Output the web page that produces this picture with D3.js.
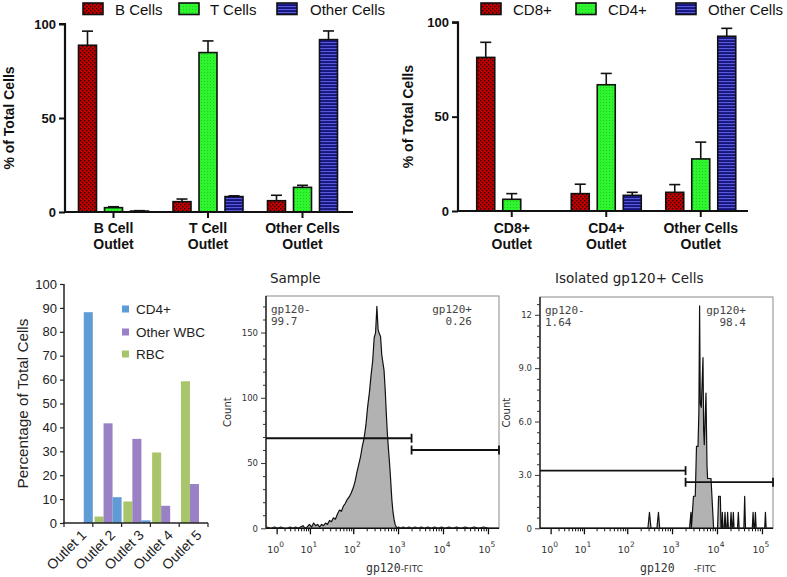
<!DOCTYPE html>
<html><head><meta charset="utf-8">
<script src="https://cdn.jsdelivr.net/npm/d3@7"></script>
<style>body{margin:0;background:#fff}svg{display:block}</style>
</head><body>
<svg id="c" width="787" height="577"></svg>
<script>
// ---------- DATA ----------
// Panel A (top-left)
const aGroups = ["B Cell|Outlet", "T Cell|Outlet", "Other Cells|Outlet"];
const aSeries = ["B Cells", "T Cells", "Other Cells"];
const aBCells = [88.7, 5.5, 6.0];
const aBCellsErr = [7.5, 1.4, 2.9];
const aTCells = [2.3, 84.8, 13.1];
const aTCellsErr = [0.5, 6.2, 1.1];
const aOther = [0.5, 8.2, 91.7];
const aOtherErr = [0.2, 0.4, 4.6];
const aTicks = [0, 50, 100];

// Panel B (top-right)
const bGroups = ["CD8+|Outlet", "CD4+|Outlet", "Other Cells|Outlet"];
const bSeries = ["CD8+", "CD4+", "Other Cells"];
const bCD8 = [81.4, 9.2, 9.9];
const bCD8Err = [8.0, 5.0, 4.1];
const bCD4 = [6.2, 66.9, 27.6];
const bCD4Err = [3.0, 6.0, 8.9];
const bOther = [0, 8.3, 92.6];
const bOtherErr = [0, 1.6, 4.2];
const bTicks = [0, 50, 100];

// Panel C (bottom-left)
const cOutlets = ["Outlet 1", "Outlet 2", "Outlet 3", "Outlet 4", "Outlet 5"];
const cCD4 = [88.2, 10.8, 1.1, 0, 0];
const cOtherWBC = [0, 41.7, 35.2, 7.2, 16.3];
const cRBC = [0, 2.7, 9.0, 29.5, 59.3];
const cTicks = [0, 10, 20, 30, 40, 50, 60, 70, 80, 90, 100];

// Flow panels: [FITC intensity, count]
const sampleHistogram = [
 [0.2,1],[0.5,0],[0.8,1],[1.1,0],[1.5,1],[1.9,0],[2.4,0],[3,1],[3.6,0],[4.3,1],[5,0],[5.8,1],
 [6.7,2],[7.6,0],[8.6,1],[9.7,3],[11,1],[12.3,4],[13.7,2],[15.3,3],[17,1],[19,3],[21,2],[23.5,4],
 [26,3],[29,6],[32,5],[35.6,8],[39.5,7],[44,11],[49,14],[54,13],[60,17],[66,19],[73,22],[81,24],
 [90,27],[100,31],[110,36],[121,43],[133,49],[146,55],[160,63],[175,69],[192,79],[210,93],[230,104],
 [250,117],[272,128],[294,146],[316,150],[338,170],[360,152],[384,149],[408,147],[434,133],[460,127],
 [488,121],[518,106],[548,88],[580,72],[614,60],[650,49],[688,36],[728,22],[770,13],[815,7],[862,3],
 [912,1],[965,0],[1020,1],[1150,0],[1300,1],[1500,0],[1750,1],[2050,0],[2400,1],[2800,0],[3300,1],
 [3900,0],[4600,1],[5500,0],[6500,1],[7800,0],[9300,1],[11000,0],[13500,1],[16500,0],[20000,1],
 [25000,0],[31000,1],[39000,0],[49000,1],[62000,0],[80000,1],[105000,0],[140000,0],[176000,0]
];
const isolatedHistogram = [
 [0.2,0],[290,0],[314,0.9],[340,0],[460,0],[499,0.9],[530,0],[2450,0],[2637,0.9],[2700,0],
 [2778,0.5],[3000,1.8],[3290,1.8],[3500,4.6],[3780,4.6],[3950,6.5],[4104,12.5],[4250,7.0],[4475,6.8],
 [4884,9.6],[5050,5.5],[5220,4.7],[5690,7.6],[6000,3.5],[6180,2.8],[7360,2.8],[8411,0],[9500,0],
 [10300,0],[10870,1.8],[11860,1.8],[12300,0],[12800,0],[13150,0.9],[13600,0],[14500,0],[15090,0.9],
 [15700,0],[16600,0],[17250,0.9],[17900,0],[19700,0],[20530,0.9],[21400,0],[22200,0],[23110,0.9],
 [24000,0],[28600,0],[29860,0.9],[31100,0],[39600,0],[41300,1.8],[43000,0],[61000,0],[63500,0.9],
 [66000,0],[68800,0],[71500,0.9],[74300,0],[115000,0],[119500,0.9],[124000,0],[176000,0]
];
const flowXDomain = [0.16, 176000];
const flowDecades = [1, 10, 100, 1000, 10000, 100000];
const sampleYTicks = [0, 50, 100, 150];
const isolatedYTicks = [0, 3, 6, 9, 12];
const isolatedYLabels = ["0", "3.0", "6.0", "9.0", "12"];
const gateBoundary = 2000;

// ---------- DRAWING ----------
const svg = d3.select("#c");
const defs = svg.append("defs");

function pattern(id, w, h, bg, marks) {
  const p = defs.append("pattern").attr("id", id).attr("patternUnits", "userSpaceOnUse")
    .attr("width", w).attr("height", h);
  p.append("rect").attr("width", w).attr("height", h).attr("fill", bg);
  marks.forEach(m => p.append("rect").attr("x", m[0]).attr("y", m[1]).attr("width", m[2]).attr("height", m[3]).attr("fill", m[4]));
}
pattern("patRed", 4, 4, "#c00000", [[0,0,1.3,1.3,"#1a0000"],[2,2,1.3,1.3,"#1a0000"]]);
pattern("patGreen", 3, 3, "#2ef52e", [[0,0,1,1,"#22cc22"]]);
pattern("patBlue", 4, 3, "#16167e", [[0,0,4,1.1,"#5a5ad8"]]);
const topFills = ["url(#patRed)", "url(#patGreen)", "url(#patBlue)"];

function groupedBars(o) {
  const g = svg.append("g").attr("font-family", "'Liberation Sans', Arial, sans-serif");
  const x0 = d3.scaleBand().domain(o.groups).range(o.xRange);
  const x1 = d3.scaleBand().domain(o.series).range([0, x0.bandwidth()])
    .paddingInner(0.3077).paddingOuter(0.471);
  const y = d3.scaleLinear().domain([0, 100]).range(o.yRange);
  const rows = [];
  o.series.forEach((s, si) => o.groups.forEach((gr, gi) => {
    rows.push({s, si, gr, v: o.values[si][gi], e: o.errors[si][gi]});
  }));
  const drawn = rows.filter(d => d.v > 0);
  g.selectAll("rect.bar").data(drawn).join("rect")
    .attr("x", d => x0(d.gr) + x1(d.s)).attr("width", x1.bandwidth())
    .attr("y", d => y(d.v)).attr("height", d => y(0) - y(d.v))
    .attr("fill", d => topFills[d.si]).attr("stroke", "#111").attr("stroke-width", 1.6);
  const eb = g.selectAll("g.err").data(drawn).join("g");
  eb.append("line").attr("x1", d => x0(d.gr) + x1(d.s) + x1.bandwidth()/2)
    .attr("x2", d => x0(d.gr) + x1(d.s) + x1.bandwidth()/2)
    .attr("y1", d => y(d.v)).attr("y2", d => y(d.v + d.e)).attr("stroke", "#111").attr("stroke-width", 1.6);
  eb.append("line").attr("x1", d => x0(d.gr) + x1(d.s) + x1.bandwidth()/2 - 5.5)
    .attr("x2", d => x0(d.gr) + x1(d.s) + x1.bandwidth()/2 + 5.5)
    .attr("y1", d => y(d.v + d.e)).attr("y2", d => y(d.v + d.e)).attr("stroke", "#111").attr("stroke-width", 1.6);
  // y axis
  const ya = g.append("g").attr("transform", `translate(${o.axisX},0)`)
    .call(d3.axisLeft(y).tickValues(o.ticks).tickSize(6).tickPadding(3));
  ya.select(".domain").attr("stroke", "#111").attr("stroke-width", 2.2).attr("d", `M-6,${y(100)}H0V${y(0)}`);
  ya.selectAll(".tick line").attr("stroke", "#111").attr("stroke-width", 2);
  ya.selectAll(".tick text").attr("font-size", 13).attr("font-weight", "bold").attr("fill", "#111")
    .attr("font-family", "'Liberation Sans', Arial, sans-serif");
  // x axis
  g.append("line").attr("x1", o.axisX - 1).attr("x2", o.axisEnd).attr("y1", y(0)).attr("y2", y(0))
    .attr("stroke", "#111").attr("stroke-width", 2.2);
  g.selectAll("line.xt").data(o.groups).join("line")
    .attr("x1", d => x0(d) + x0.bandwidth()/2).attr("x2", d => x0(d) + x0.bandwidth()/2)
    .attr("y1", y(0)).attr("y2", y(0) + 6).attr("stroke", "#111").attr("stroke-width", 2);
  const lab = g.selectAll("text.xl").data(o.groups).join("text")
    .attr("text-anchor", "middle").attr("font-size", 14).attr("font-weight", "bold").attr("fill", "#111");
  lab.selectAll("tspan").data(d => d.split("|").map(t => ({t, d}))).join("tspan")
    .attr("x", t => x0(t.d) + x0.bandwidth()/2).attr("y", (t, i) => 233 + i * 15.5).text(t => t.t);
  // y title
  g.append("text").attr("transform", `translate(${o.titleX},${(y(0)+y(100))/2}) rotate(-90)`)
    .attr("text-anchor", "middle").attr("font-size", 14).attr("font-weight", "bold").attr("fill", "#111")
    .text("% of Total Cells");
  // legend
  const lg = g.selectAll("g.lg").data(o.series).join("g");
  lg.append("rect").attr("x", (d, i) => o.legendRect[i]).attr("y", 3).attr("width", 20).attr("height", 11.5)
    .attr("fill", (d, i) => topFills[i]).attr("stroke", "#111").attr("stroke-width", 1.6);
  lg.append("text").attr("x", (d, i) => o.legendText[i]).attr("y", 15).attr("font-size", 15)
    .attr("fill", "#111").text(d => d);
}

groupedBars({
  groups: aGroups, series: aSeries,
  values: [aBCells, aTCells, aOther], errors: [aBCellsErr, aTCellsErr, aOtherErr],
  xRange: [66.25, 349.75], yRange: [212, 24], ticks: aTicks,
  axisX: 65, axisEnd: 353, titleX: 14,
  legendRect: [83, 179, 277], legendText: [115, 210, 310]
});
groupedBars({
  groups: bGroups, series: bSeries,
  values: [bCD8, bCD4, bOther], errors: [bCD8Err, bCD4Err, bOtherErr],
  xRange: [464.5, 748], yRange: [211, 22.3], ticks: bTicks,
  axisX: 458, axisEnd: 748, titleX: 413,
  legendRect: [481, 576, 676], legendText: [513, 608, 708]
});

// ---------- Panel C ----------
(function() {
  const g = svg.append("g").attr("font-family", "'Liberation Sans', Arial, sans-serif");
  const seriesOrder = ["RBC", "Other WBC", "CD4+"];
  const seriesVals = {"CD4+": cCD4, "Other WBC": cOtherWBC, "RBC": cRBC};
  const colors = {"CD4+": "#5f9bd4", "Other WBC": "#9a80c4", "RBC": "#a9c56c"};
  const x0 = d3.scaleBand().domain(cOutlets).range([64, 208]).paddingInner(0.06).paddingOuter(0.03).align(1);
  const x1 = d3.scaleBand().domain(seriesOrder).range([0, x0.bandwidth()]);
  const y = d3.scaleLinear().domain([0, 100]).range([523, 284]);
  const rows = [];
  seriesOrder.forEach(s => cOutlets.forEach((o, i) => rows.push({s, o, v: seriesVals[s][i]})));
  g.selectAll("rect").data(rows.filter(d => d.v > 0)).join("rect")
    .attr("x", d => x0(d.o) + x1(d.s)).attr("width", x1.bandwidth())
    .attr("y", d => y(d.v)).attr("height", d => y(0) - y(d.v)).attr("fill", d => colors[d.s]);
  const ya = g.append("g").attr("transform", "translate(64,0)")
    .call(d3.axisLeft(y).tickValues(cTicks).tickSize(4).tickPadding(3));
  ya.select(".domain").attr("stroke", "#222").attr("stroke-width", 1.5).attr("d", `M0,${y(100)}V${y(0)}`);
  ya.selectAll(".tick line").attr("stroke", "#222").attr("stroke-width", 1.2);
  ya.selectAll(".tick text").attr("font-size", 13).attr("fill", "#222")
    .attr("font-family", "'Liberation Sans', Arial, sans-serif");
  g.append("line").attr("x1", 63).attr("x2", 208).attr("y1", y(0)).attr("y2", y(0))
    .attr("stroke", "#222").attr("stroke-width", 1.5);
  const tickX = [64].concat(cOutlets.map(o => x0(o) + x0.bandwidth()));
  g.selectAll("line.xt").data(tickX).join("line")
    .attr("x1", d => d).attr("x2", d => d).attr("y1", y(0)).attr("y2", y(0) + 4)
    .attr("stroke", "#222").attr("stroke-width", 1.2);
  g.selectAll("text.xl").data(cOutlets).join("text")
    .attr("transform", o => `translate(${x0(o) + x0.bandwidth()/2 + 8},${y(0) + 13}) rotate(-45)`)
    .attr("text-anchor", "end").attr("font-size", 14).attr("fill", "#222").text(o => o);
  g.append("text").attr("transform", `translate(28,${(y(0)+y(100))/2}) rotate(-90)`)
    .attr("text-anchor", "middle").attr("font-size", 15.3).attr("fill", "#222").text("Percentage of Total Cells");
  const legendOrder = ["CD4+", "Other WBC", "RBC"];
  const ly = [309, 332, 354];
  legendOrder.forEach((s, i) => {
    g.append("rect").attr("x", 122).attr("y", ly[i] - 3.5).attr("width", 7).attr("height", 7).attr("fill", colors[s]);
    g.append("text").attr("x", 136).attr("y", ly[i]).attr("dy", "0.36em").attr("font-size", 13.5)
      .attr("fill", "#222").text(s);
  });
})();

// ---------- Flow panels ----------
function flowPanel(o) {
  const g = svg.append("g").attr("font-family", "'DejaVu Sans', sans-serif");
  const W = 233;
  const x = d3.scaleSymlog().constant(1).domain(flowXDomain).range([o.left, o.left + W]);
  const y = d3.scaleLinear().domain(o.yDomain).range([o.bottom, o.top]);
  const cid = "clip" + o.id;
  defs.append("clipPath").attr("id", cid).append("rect")
    .attr("x", o.left).attr("y", o.top).attr("width", W).attr("height", o.bottom - o.top);
  const area = d3.area().x(d => x(d[0])).y0(y(0)).y1(d => y(d[1]));
  const line = d3.line().x(d => x(d[0])).y(d => y(d[1]));
  g.append("path").datum(o.data).attr("clip-path", `url(#${cid})`).attr("d", area).attr("fill", "#b2b2b2");
  g.append("path").datum(o.data).attr("clip-path", `url(#${cid})`).attr("d", line)
    .attr("fill", "none").attr("stroke", "#111").attr("stroke-width", 1.2).attr("stroke-linejoin", "round");
  // frame
  g.append("rect").attr("x", o.left).attr("y", o.top).attr("width", W).attr("height", o.bottom - o.top)
    .attr("fill", "none").attr("stroke", "#8a8a8a").attr("stroke-width", 1);
  g.append("line").attr("x1", o.left).attr("x2", o.left).attr("y1", o.top).attr("y2", o.bottom)
    .attr("stroke", "#111").attr("stroke-width", 1.3);
  g.append("line").attr("x1", o.left).attr("x2", o.left + W).attr("y1", o.bottom).attr("y2", o.bottom)
    .attr("stroke", "#111").attr("stroke-width", 1.6);
  // y ticks
  const ya = g.append("g").attr("transform", `translate(${o.left},0)`)
    .call(d3.axisLeft(y).tickValues(o.yTicks).tickSize(5).tickPadding(3)
      .tickFormat((d, i) => o.yLabels[i]));
  ya.select(".domain").remove();
  ya.selectAll(".tick line").attr("stroke", "#333");
  ya.selectAll(".tick text").attr("font-size", 8.5).attr("fill", "#333").attr("font-family", "'DejaVu Sans', sans-serif");
  const ym = g.append("g").attr("transform", `translate(${o.left},0)`)
    .call(d3.axisLeft(y).tickValues(o.yMinor).tickSize(3).tickFormat(""));
  ym.select(".domain").remove();
  ym.selectAll(".tick line").attr("stroke", "#333");
  // x ticks
  const minors = [];
  flowDecades.slice(0, 5).forEach(d => [2,3,4,5,6,7,8,9].forEach(m => minors.push(d * m)));
  const xm = g.append("g").attr("transform", `translate(0,${o.bottom})`)
    .call(d3.axisBottom(x).tickValues(minors).tickSize(3).tickFormat(""));
  xm.select(".domain").remove();
  xm.selectAll(".tick line").attr("stroke", "#111");
  const xa = g.append("g").attr("transform", `translate(0,${o.bottom})`)
    .call(d3.axisBottom(x).tickValues(flowDecades).tickSize(6).tickFormat(""));
  xa.select(".domain").remove();
  xa.selectAll(".tick line").attr("stroke", "#111").attr("stroke-width", 1.3);
  const xl = g.selectAll("text.xl").data(flowDecades).join("text")
    .attr("x", d => x(d) - 1).attr("y", o.bottom + 25).attr("text-anchor", "middle")
    .attr("font-size", 9.5).attr("fill", "#333");
  xl.append("tspan").text("10");
  xl.append("tspan").attr("dy", -6).attr("font-size", 7.5).text((d, i) => i);
  // gates
  const gate = (x1v, x2v, cy, ticks) => {
    g.append("line").attr("x1", x(x1v)).attr("x2", x(x2v)).attr("y1", y(cy)).attr("y2", y(cy))
      .attr("stroke", "#111").attr("stroke-width", 1.8);
    ticks.forEach(t => g.append("line").attr("x1", x(t)).attr("x2", x(t)).attr("y1", y(cy) - 4.5).attr("y2", y(cy) + 4.5)
      .attr("stroke", "#111").attr("stroke-width", 1.8));
  };
  gate(flowXDomain[0], gateBoundary, o.gateNeg, [gateBoundary]);
  gate(gateBoundary, flowXDomain[1], o.gatePos, [gateBoundary, flowXDomain[1]]);
  // gate labels
  const mono = "'DejaVu Sans Mono', monospace";
  g.append("text").attr("x", o.left + 5).attr("y", o.top + 17).attr("font-family", mono).attr("font-size", 11).attr("fill", "#444").text("gp120-");
  g.append("text").attr("x", o.left + 5).attr("y", o.top + 29).attr("font-family", mono).attr("font-size", 11).attr("fill", "#444").text(o.negPct);
  g.append("text").attr("x", o.left + W - 27).attr("y", o.top + 17).attr("text-anchor", "end").attr("font-family", mono).attr("font-size", 11).attr("fill", "#444").text("gp120+");
  g.append("text").attr("x", o.left + W - 27).attr("y", o.top + 29).attr("text-anchor", "end").attr("font-family", mono).attr("font-size", 11).attr("fill", "#444").text(o.posPct);
  // title
  g.append("text").attr("x", o.titleX).attr("y", 283).attr("font-size", 13.5).attr("fill", "#222").text(o.title);
  // Count
  g.append("text").attr("transform", `translate(${o.countX},${(o.top + o.bottom)/2}) rotate(-90)`)
    .attr("text-anchor", "middle").attr("font-size", 10).attr("fill", "#333").text("Count");
  // x title
  const xt = g.append("text").attr("x", o.xTitleX).attr("y", 572).attr("fill", "#333");
  xt.append("tspan").attr("font-family", mono).attr("font-size", 11.5).text("gp120");
  xt.append("tspan").attr("dx", o.xTitleGap).attr("font-size", 9).text("-FITC");
}

flowPanel({
  id: "s", left: 266, top: 296, bottom: 528.3, yDomain: [0, 178],
  data: sampleHistogram, yTicks: sampleYTicks, yLabels: ["0", "50", "100", "150"],
  yMinor: [10,20,30,40,60,70,80,90,110,120,130,140,160,170],
  gateNeg: 69, gatePos: 60, negPct: "99.7", posPct: "0.26",
  title: "Sample", titleX: 270, countX: 231, xTitleX: 366, xTitleGap: 0
});
flowPanel({
  id: "i", left: 540, top: 297, bottom: 528.3, yDomain: [0, 13],
  data: isolatedHistogram, yTicks: isolatedYTicks, yLabels: isolatedYLabels,
  yMinor: [0.6,1.2,1.8,2.4,3.6,4.2,4.8,5.4,6.6,7.2,7.8,8.4,9.6,10.2,10.8,11.4,12.6],
  gateNeg: 3.24, gatePos: 2.59, negPct: "1.64", posPct: "98.4",
  title: "Isolated gp120+ Cells", titleX: 555, countX: 510, xTitleX: 640, xTitleGap: 19
});
</script>
</body></html>
